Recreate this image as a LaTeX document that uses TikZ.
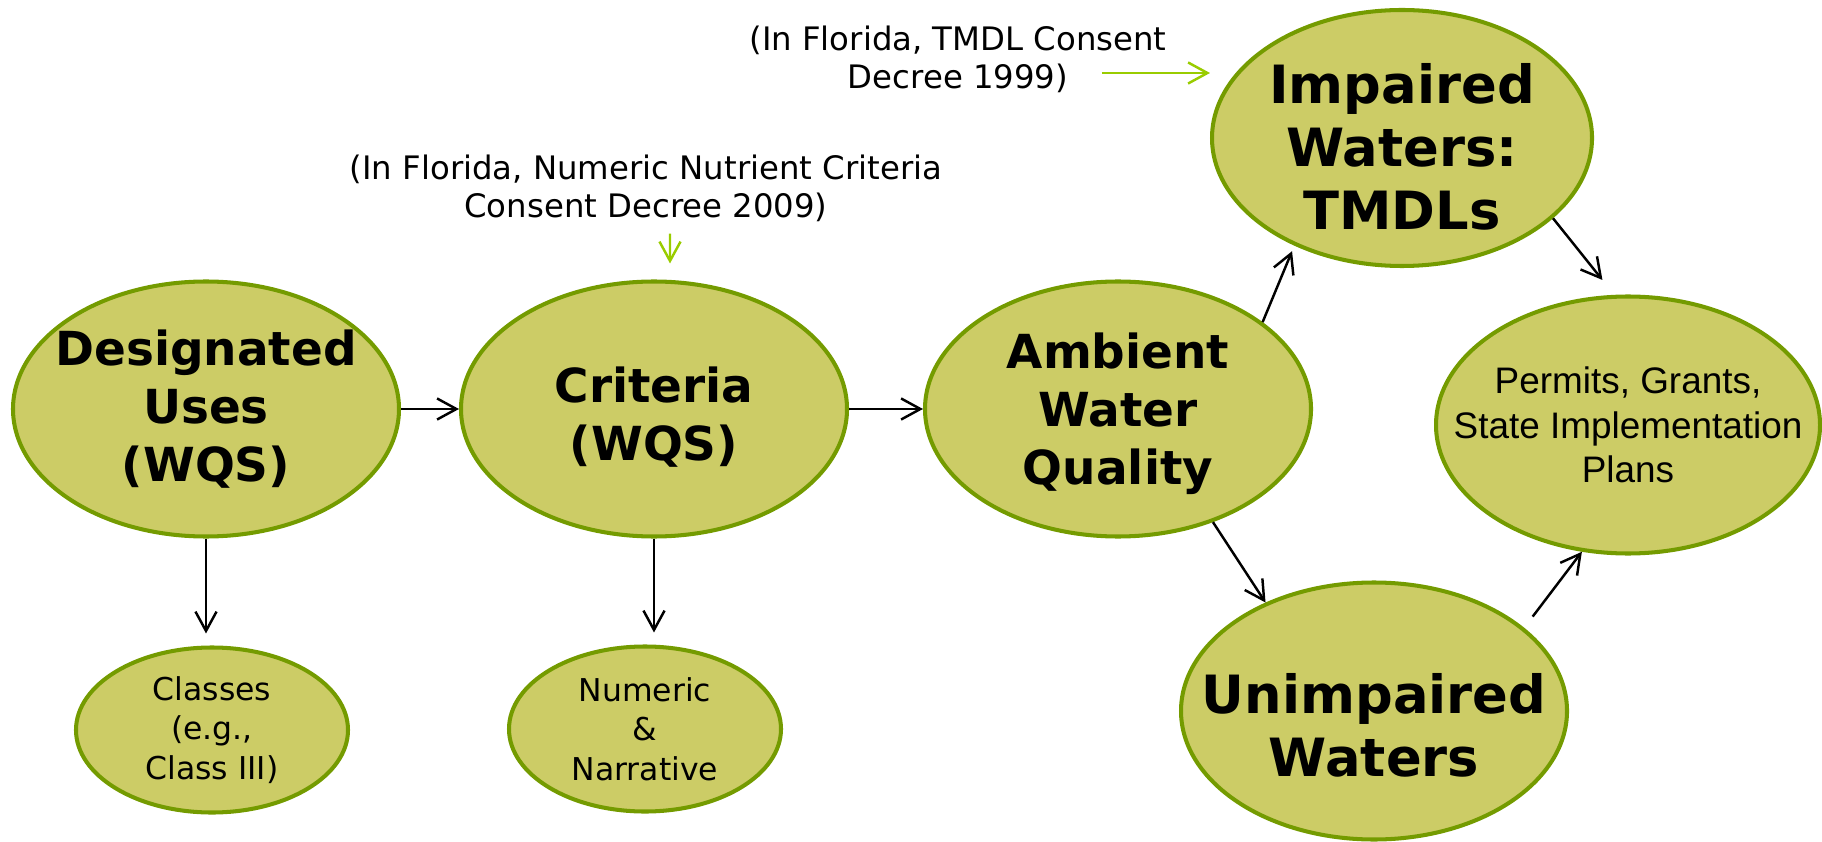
\documentclass[tikz,border=0pt]{standalone}
\usepackage{fontspec}
\setmainfont{DejaVu Sans}
\newfontfamily\arialfont{Liberation Sans}
\usetikzlibrary{shapes.geometric,arrows.meta}
\definecolor{bubblefill}{RGB}{204,204,102}
\definecolor{bubbleline}{RGB}{116,155,0}
\definecolor{notegreen}{RGB}{153,204,0}
\newcommand{\droptext}[1]{\rule{0pt}{#1}}
\tikzset{
        bubble/.style={ellipse, draw=bubbleline, fill=bubblefill, line width=2.3pt,
                inner xsep=-1cm, inner ysep=-0.6cm, align=center,
                minimum width=7.72cm, minimum height=5.10cm},
        bigtext/.style={font=\bfseries\fontsize{26.7pt}{33pt}\selectfont},
        hugetext/.style={font=\bfseries\fontsize{30pt}{36pt}\selectfont},
        smallbubble/.style={bubble, minimum width=5.44cm, minimum height=3.30cm,
                font=\fontsize{17.9pt}{22.6pt}\selectfont},
        note/.style={inner sep=0pt, align=center, font=\fontsize{18.4pt}{21.6pt}\selectfont},
        flow/.style={line width=1.4pt, -{Straight Barb[length=11pt,width=12pt]}},
        noteflow/.style={flow, notegreen},
}

\begin{document}
\begin{tikzpicture}
        \useasboundingbox (0cm, 0cm) rectangle (36.44cm, -16.84cm);
        \node (desig) [bubble, bigtext] at (4.12cm, -8.18cm) {Designated\\Uses\\(WQS)};
        \node (crit) [bubble, bigtext] at (13.08cm, -8.18cm) {\droptext{1.04cm}Criteria\\(WQS)};
        \node (amb) [bubble, bigtext] at (22.36cm, -8.18cm) {\droptext{0.92cm}Ambient\\Water\\Quality};
        \node (imp) [bubble, hugetext, minimum width=7.60cm, minimum height=5.12cm] at (28.04cm, -2.76cm) {\droptext{1.16cm}Impaired\\Waters:\\TMDLs};
        \node (permits) [bubble, font=\arialfont\fontsize{21pt}{25.3pt}\selectfont, minimum width=7.68cm, minimum height=5.14cm] at (32.56cm, -8.50cm) {Permits, Grants,\\State Implementation\\Plans};
        \node (unimp) [bubble, hugetext, minimum height=5.14cm] at (27.48cm, -14.22cm) {\droptext{1.36cm}Unimpaired\\Waters};
        \node (classes) [smallbubble] at (4.24cm, -14.60cm) {Classes\\(e.g.,\\Class III)};
        \node (numeric) [smallbubble] at (12.90cm, -14.58cm) {Numeric\\\&\\Narrative};
        \node (nnc) [note] at (12.92cm, -3.76cm) {(In Florida, Numeric Nutrient Criteria\\Consent Decree 2009)};
        \node (tmdl) [note] at (19.16cm, -1.18cm) {(In Florida, TMDL Consent\\Decree 1999)};
        \coordinate (tmdl-from) at ([xshift=-1.30cm, yshift=-0.28cm]tmdl.east);

        \draw (desig) edge [flow] (crit);
        \draw (crit) edge [flow] (amb);
        \draw (desig.south) edge [flow, shorten >=0.24cm] (desig.south |- classes.north);
        \draw (crit.south) edge [flow, shorten >=0.24cm] (crit.south |- numeric.north);
        \draw (amb.31) edge [flow, shorten >=0.12cm] (imp.225);
        \draw (amb.-50) edge [flow] (unimp.135);
        \draw (imp.-28) edge [flow, shorten >=0.38cm] (permits.96);
        \draw (unimp.29) edge [flow, shorten <=0.28cm] (permits.250);
        \draw ([xshift=0.48cm]nnc.south) edge [noteflow, shorten <=0.24cm, shorten >=0.32cm] ([xshift=0.32cm]crit.north);
        \draw (tmdl-from) edge [noteflow] (tmdl-from -| imp.west);
\end{tikzpicture}
\end{document}
